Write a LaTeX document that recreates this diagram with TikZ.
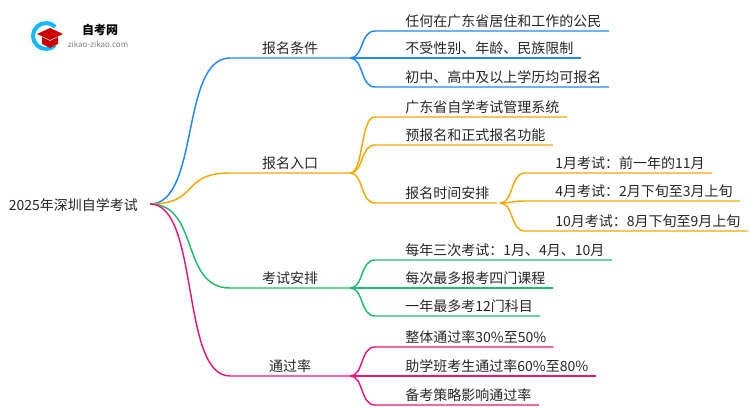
\documentclass[tikz,border=0pt]{standalone}
\usepackage{fontspec}
\setmainfont{Noto Sans CJK SC}
\begin{document}
\begin{tikzpicture}[x=0.75pt,y=-0.75pt,line width=1.1pt,
  lbl/.style={font=\fontsize{10.5}{12}\selectfont,inner sep=2pt,text=black!85}]
\definecolor{cb}{HTML}{1E88FF}\definecolor{co}{HTML}{F5A800}
\definecolor{cg}{HTML}{1DBE6A}\definecolor{cp}{HTML}{E8177A}
\useasboundingbox (0,0) rectangle (750,410);
% logo
\draw[line width=3pt,color=cb!60!cyan] (46,36) ++(45:13) arc (45:315:13);
\fill[red!80!black] (37,34) -- (50,28) -- (63,34) -- (50,40) -- cycle;
\fill[red!80!black] (42,37) -- (42,44) -- (50,48) -- (58,44) -- (58,37) -- (50,41) -- cycle;
\node[font=\bfseries\fontsize{9}{10}\selectfont] (lt) at (100,30) {自考网};
\node[font=\fontsize{6}{7}\selectfont,text=gray] (lu) at (98,44) {zikao-zikao.com};
\node[font=\fontsize{10.5}{13}\selectfont,anchor=east,inner sep=1pt,text=black!85] (root) at (140,205) {2025年深圳自学考试};
\coordinate (r) at (150,204);
% parents
\foreach \t/\y/\c/\n in {报名条件/58/cb/p1,报名入口/173/co/p2,考试安排/288/cg/p3,通过率/376/cp/p4}{
  \node[lbl,anchor=south] (\n) at (290,\y) {\t};
  \draw[\c] (r) .. controls (200,204) and (180,\y) .. (230,\y) -- (350,\y);
}
% leaves
\foreach \t/\y/\py/\c/\x/\px in {
 任何在广东省居住和工作的公民/31/58/cb/375/350,
 不受性别、年龄、民族限制/58/58/cb/375/350,
 初中、高中及以上学历均可报名/87/58/cb/375/350,
 广东省自学考试管理系统/117/173/co/375/350,
 预报名和正式报名功能/145/173/co/375/350,
 报名时间安排/203/173/co/375/350,
 1月考试：前一年的11月/173/203/co/525/500,
 4月考试：2月下旬至3月上旬/201/203/co/525/500,
 10月考试：8月下旬至9月上旬/231/203/co/525/500,
 每年三次考试：1月、4月、10月/260/288/cg/375/350,
 每次最多报考四门课程/288/288/cg/375/350,
 一年最多考12门科目/316/288/cg/375/350,
 整体通过率30\%至50\%/347/376/cp/375/350,
 助学班考生通过率60\%至80\%/376/376/cp/375/350,
 备考策略影响通过率/405/376/cp/375/350}{
  \node[lbl,anchor=south west] (l) at (\x+27,\y) {\t};
  \draw[\c] (\px,\py) .. controls (\px+14,\py) and (\px+10,\y) .. (\x,\y) -- (l.south west) -- ([xshift=3pt]l.south east);
}
\end{tikzpicture}
\end{document}
